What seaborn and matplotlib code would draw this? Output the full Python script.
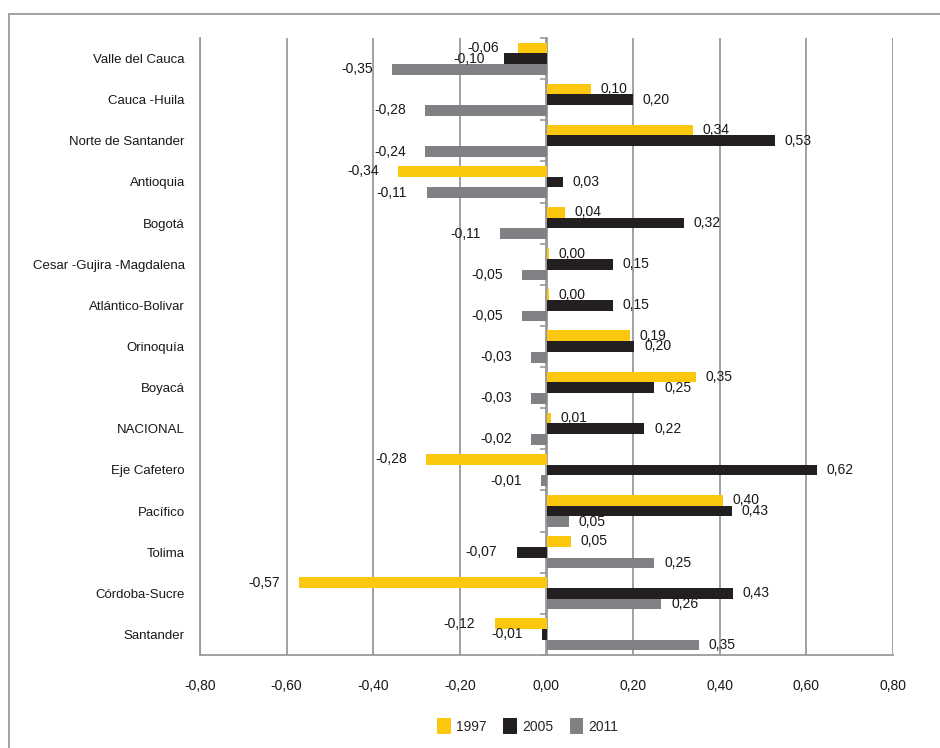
import matplotlib
matplotlib.use('Agg')
import matplotlib.pyplot as plt
from matplotlib.ticker import FuncFormatter, NullFormatter
import seaborn as sns
import pandas as pd
import numpy as np

# categories, top to bottom
regions = ['Valle del Cauca', 'Cauca -Huila', 'Norte de Santander', 'Antioquia', 'Bogotá',
           'Cesar -Gujira -Magdalena', 'Atlántico-Bolivar', 'Orinoquía', 'Boyacá', 'NACIONAL',
           'Eje Cafetero', 'Pacífico', 'Tolima', 'Córdoba-Sucre', 'Santander']
years = ['1997', '2005', '2011']

# bar lengths as drawn
bars_1997 = [-0.065, 0.102, 0.338, -0.342, 0.043, 0.006, 0.006, 0.192, 0.345, 0.011, -0.278, 0.407, 0.057, -0.571, -0.120]
bars_2005 = [-0.097, 0.200, 0.528, 0.038, 0.318, 0.153, 0.153, 0.203, 0.249, 0.226, 0.624, 0.428, -0.069, 0.430, -0.010]
bars_2011 = [-0.356, -0.280, -0.280, -0.277, -0.108, -0.056, -0.056, -0.035, -0.035, -0.035, -0.012, 0.052, 0.249, 0.265, 0.352]

# printed data labels
lab_1997 = [-0.06, 0.10, 0.34, -0.34, 0.04, 0.00, 0.00, 0.19, 0.35, 0.01, -0.28, 0.40, 0.05, -0.57, -0.12]
lab_2005 = [-0.10, 0.20, 0.53, 0.03, 0.32, 0.15, 0.15, 0.20, 0.25, 0.22, 0.62, 0.43, -0.07, 0.43, -0.01]
lab_2011 = [-0.35, -0.28, -0.24, -0.11, -0.11, -0.05, -0.05, -0.03, -0.03, -0.02, -0.01, 0.05, 0.25, 0.26, 0.35]

colors = ['#FCC70F', '#231F20', '#808184']
grid_col = '#9A9A9A'
txt_col = '#1A1718'
fs = 9.5

df = pd.DataFrame({
    'region': regions * 3,
    'year': np.repeat(years, len(regions)),
    'value': bars_1997 + bars_2005 + bars_2011,
})

sns.set_style('white')
plt.rcParams['font.family'] = ['Liberation Sans', 'DejaVu Sans']
plt.rcParams['font.size'] = fs

fig = plt.figure(figsize=(9.4, 7.48), dpi=100)
ax = fig.add_axes([200 / 940, 1 - 655 / 748, 693 / 940, 617 / 748])

sns.barplot(data=df, y='region', x='value', hue='year', orient='h',
            palette=colors, width=0.78, saturation=1, ax=ax, order=regions,
            linewidth=0, edgecolor='none')

ax.set_xlim(-0.8, 0.8)
ax.set_xticks(np.arange(-0.8, 0.81, 0.2))
ax.xaxis.set_major_formatter(FuncFormatter(lambda v, _: f'{v:.2f}'.replace('.', ',').replace('-0,00', '0,00')))
ax.set_xlabel('')
ax.set_ylabel('')
ax.grid(axis='x', color=grid_col, lw=1.3)
ax.set_axisbelow(True)
for s in ['top', 'right']:
    ax.spines[s].set_visible(False)
for s in ['left', 'bottom']:
    ax.spines[s].set_color(grid_col)
    ax.spines[s].set_linewidth(1.3)
ax.tick_params(axis='y', length=0, pad=11, labelsize=fs, labelcolor=txt_col)
ax.tick_params(axis='x', length=5, width=1.2, color=grid_col, pad=12, labelsize=fs + 0.5, labelcolor=txt_col)

# small ticks on the zero line between categories
sec = ax.secondary_yaxis(0.5)
sec.set_yticks(np.arange(len(regions) + 1) - 0.5)
sec.yaxis.set_major_formatter(NullFormatter())
sec.yaxis.set_ticks_position('left')
sec.tick_params(length=5, width=1.2, color=grid_col, labelleft=False, labelright=False)
for s in sec.spines.values():
    s.set_color(grid_col)
    s.set_linewidth(1.3)

# data labels
for cont, labs in zip(ax.containers, [lab_1997, lab_2005, lab_2011]):
    for patch, lab in zip(cont.patches, labs):
        end = patch.get_x() + patch.get_width()
        yc = patch.get_y() + patch.get_height() / 2
        txt = f'{lab:.2f}'.replace('.', ',')
        if patch.get_width() < 0:
            ax.annotate(txt, (end, yc), xytext=(-14, 0), textcoords='offset points',
                        ha='right', va='center', fontsize=fs + 0.5, color=txt_col)
        else:
            ax.annotate(txt, (end, yc), xytext=(7, 0), textcoords='offset points',
                        ha='left', va='center', fontsize=fs + 0.5, color=txt_col)

handles, labels = ax.get_legend_handles_labels()
ax.legend_.remove()
fig.legend(handles, labels, loc='center', bbox_to_anchor=(528 / 940, 1 - 726 / 748),
           ncol=3, frameon=False, fontsize=fs + 0.5, handlelength=0.95, handleheight=1.3,
           handletextpad=0.4, columnspacing=1.2)

# outer frame
fig.add_artist(plt.Rectangle((9 / 940, -0.05), 1.2, 1.05 - 14 / 748, transform=fig.transFigure,
                             fill=False, ec=grid_col, lw=1.3))

fig.savefig('out.png', dpi=100)
